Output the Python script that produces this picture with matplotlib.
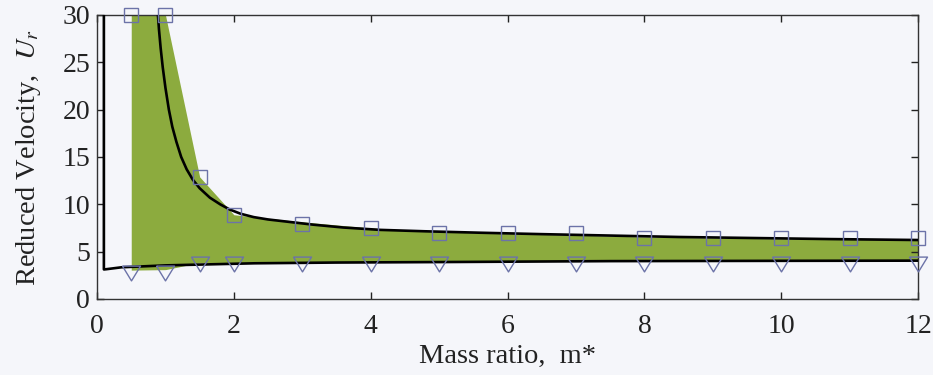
import matplotlib
matplotlib.use("Agg")
import matplotlib.pyplot as plt

plt.rcParams['font.family'] = ['Liberation Serif', 'DejaVu Serif']
plt.rcParams['mathtext.fontset'] = 'stix'

# Measured mass ratios
mass_ratio = [0.5, 1, 1.5, 2, 3, 4, 5, 6, 7, 8, 9, 10, 11, 12]
# Upper limit of the synchronisation range (squares)
ur_upper = [30, 30, 12.9, 8.9, 7.9, 7.45, 6.95, 6.95, 6.95, 6.4, 6.4, 6.4, 6.4, 6.4]
# Lower limit of the synchronisation range (triangles)
ur_lower = [2.75, 2.7, 3.7, 3.7, 3.7, 3.7, 3.7, 3.7, 3.7, 3.7, 3.7, 3.7, 3.7, 3.7]

# Shaded lock-in band
band_top = [30, 30, 12.9, 8.9, 8.15, 7.5, 7.1, 6.9, 6.75, 6.55, 6.45, 6.35, 6.3, 6.25]
band_bottom = [3.05, 3.1, 3.85, 3.85, 3.9, 3.95, 3.95, 3.95, 4.0, 4.0, 4.0, 4.0, 4.05, 4.05]

# Predicted boundaries
upper_curve_m = [0.89, 0.905, 0.93, 0.96, 1.0, 1.05, 1.10, 1.16, 1.23, 1.31, 1.40,
                 1.50, 1.65, 1.80, 1.94, 2.1, 2.29, 2.5, 2.8, 3.16, 3.6, 4.14,
                 4.8, 5.6, 6.5, 7.5, 8.5, 9.5, 10.7, 12.0]
upper_curve_ur = [30, 28.5, 26.5, 24.5, 22.3, 20.0, 18.2, 16.6, 15.0, 13.7, 12.6,
                  11.7, 10.7, 10.0, 9.45, 9.0, 8.65, 8.4, 8.15, 7.85, 7.55, 7.3,
                  7.15, 7.0, 6.85, 6.7, 6.55, 6.45, 6.33, 6.23]
lower_curve_m = [0.10, 0.10, 0.14, 0.36, 1.0, 2.3, 3.5, 5.0, 7.5, 10.0, 12.0]
lower_curve_ur = [30, 3.12, 3.15, 3.35, 3.55, 3.77, 3.85, 3.9, 4.0, 4.03, 4.05]

x_ticks = [0, 2, 4, 6, 8, 10, 12]
y_ticks = [0, 5, 10, 15, 20, 25, 30]

bg = '#f5f6fa'
green = '#8cab3e'
marker_col = '#6c73a8'
ink = '#222222'

fig = plt.figure(figsize=(9.33, 3.75), dpi=100, facecolor=bg)
ax = fig.add_axes([0.104, 0.2027, 0.88, 0.7573], facecolor=bg)

ax.fill_between(mass_ratio, band_bottom, band_top, color=green, lw=0, zorder=1)
ax.plot(upper_curve_m, upper_curve_ur, color='black', lw=1.9, zorder=3,
        solid_joinstyle='round')
ax.plot(lower_curve_m, lower_curve_ur, color='black', lw=1.9, zorder=3,
        solid_joinstyle='round')

tri = [(-1.0, 0.82), (1.0, 0.82), (0.0, -0.82), (-1.0, 0.82)]
ax.plot(mass_ratio, ur_upper, linestyle='none', marker='s', ms=9.4,
        mfc='none', mec=marker_col, mew=1.0, zorder=4, clip_on=False)
ax.plot(mass_ratio, ur_lower, linestyle='none', marker=tri, ms=13,
        mfc='none', mec=marker_col, mew=1.0, zorder=4, clip_on=False)

ax.set_xlim(0, 12)
ax.set_ylim(0, 30)
ax.set_xticks(x_ticks)
ax.set_yticks(y_ticks)
ax.tick_params(direction='in', length=5, width=1, top=True, right=True,
               labelsize=20, colors=ink)
ax.tick_params(axis='x', pad=11)
ax.tick_params(axis='y', pad=5)
for s in ax.spines.values():
    s.set_color('#333333')
    s.set_linewidth(1.0)

ax.set_xlabel('Mass ratio,  m*', fontsize=20.5, color=ink, labelpad=3)
ax.set_ylabel('Reduced Velocity,  $U_r$', fontsize=20.5, color=ink, labelpad=14)

fig.savefig('out.png', dpi=100, facecolor=bg)
